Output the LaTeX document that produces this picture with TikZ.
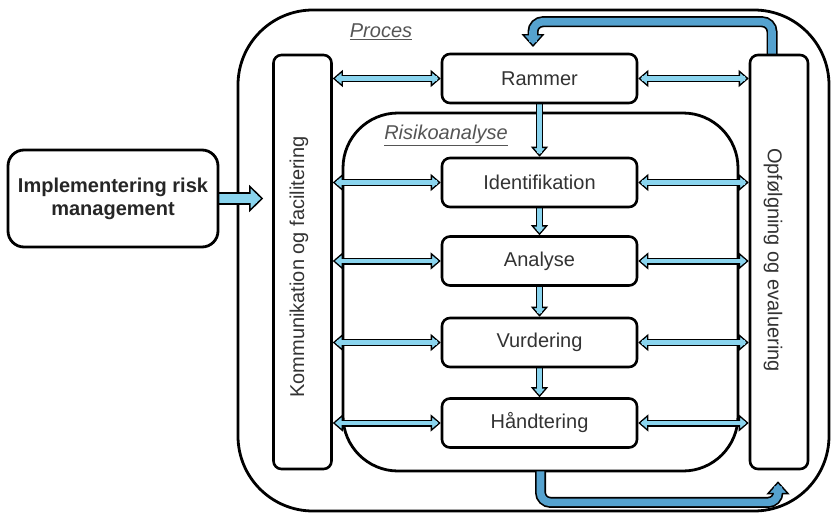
\documentclass[tikz,border=0pt]{standalone}
\usepackage{fontspec}
\setmainfont{Liberation Sans}
\usetikzlibrary{arrows.meta,calc}
\definecolor{lblue}{HTML}{8AD4EE}
\definecolor{dblue}{HTML}{55A2CF}
\definecolor{txt}{HTML}{333333}
\definecolor{lbl}{HTML}{555555}
\pgfdeclarelayer{bg}
\pgfsetlayers{bg,main}
\tikzset{
  stepbox/.style={draw=black, line width=2.6pt, rounded corners=8pt, fill=white,
    minimum width=195pt, minimum height=49pt, inner sep=0pt,
    font=\fontsize{20}{24}\selectfont, text=txt},
  sidebox/.style={draw=black, line width=2.6pt, rounded corners=8pt, fill=white,
    minimum width=58pt, minimum height=414pt, inner sep=0pt},
  sidetext/.style={font=\fontsize{20}{24}\selectfont, text=txt, inner sep=0pt},
  frame/.style={draw=black, line width=2.8pt, inner sep=0pt},
  lbltext/.style={font=\fontsize{20}{24}\selectfont\itshape, text=lbl, inner sep=0pt},
  ltip/.tip={Triangle[length=10pt,width=17pt,fill=lblue,color=black,line width=1.3pt]},
  harr/.style={line width=7pt, draw=black, ltip-ltip,
    postaction={draw=lblue, line width=4.2pt, arrows=-, shorten >=4pt, shorten <=4pt}},
  varr/.style={line width=7pt, draw=black, -ltip,
    postaction={draw=lblue, line width=4.2pt, arrows=-, shorten >=4pt}},
  bigarr/.style={line width=12.5pt, draw=black, shorten >=9pt,
    -{Triangle[length=14pt,width=27pt,fill=lblue,color=black,line width=1.5pt]},
    postaction={draw=lblue, line width=9pt, arrows=-, shorten >=15pt}},
  fbarr/.style={line width=11pt, draw=black, rounded corners=10pt,
    -{Triangle[length=13pt,width=23pt,fill=dblue,color=black,line width=1.4pt]},
    postaction={draw=dblue, line width=7.6pt, arrows=-, shorten >=5pt}}
}
\begin{document}
\begin{tikzpicture}[x=1pt,y=-1pt]
\useasboundingbox (0,0) rectangle (833,514);

% boxes
\node[stepbox] (ram) at (539.5,78.5) {Rammer};
\node[stepbox] (ide) at (539.5,182.5) {Identifikation};
\node[stepbox] (ana) at (539.5,261) {Analyse};
\node[stepbox] (vur) at (539.5,342.5) {Vurdering};
\node[stepbox] (han) at (539.5,423) {Håndtering};

\node[sidebox] (kom) at (302.5,262) {};
\node[sidetext, rotate=90] (komt) at (299,267) {Kommunikation og facilitering};
\node[sidebox] (opf) at (779,262) {};
\node[sidetext, rotate=-90] (opft) at (773,260) {Opfølgning og evaluering};

\node[draw=black, line width=2.8pt, rounded corners=16pt, fill=white,
  minimum width=210pt, minimum height=97pt, inner sep=0pt, align=center,
  font=\fontsize{20}{23}\selectfont\bfseries, text=black!85] (imp) at (113,198.5)
  {Implementering risk\\management};

\node[lbltext] (proc) at (381,32) {\underline{Proces}};
\node[lbltext] (riskl) at (446,135) {\underline{Risikoanalyse}};

\begin{pgfonlayer}{bg}
  \node[frame, rounded corners=75pt, minimum width=591pt, minimum height=501pt] (outer) at (533.5,260.5) {};
  \node[frame, rounded corners=55pt, minimum width=395pt, minimum height=358pt, fill=white] (risk) at (540.5,292) {};

  % feedback arrows
  \coordinate (fbend) at (533,47);
  \draw[fbarr] ($(opf.north)+(-7,1)$) -- ++(0,-33) -| (fbend);
  \draw[fbarr] ($(risk.south)+(0,-1)$) -- ++(0,31) -| ($(opf.south)+(-1,11)$);

  % vertical arrows
  \draw[varr] (ram.south) -- (ide.north);
  \draw[varr] (ide.south) -- (ana.north);
  \draw[varr] (ana.south) -- (vur.north);
  \draw[varr] (vur.south) -- (han.north);

  % horizontal arrows
  \foreach \b in {ram,ide,ana,vur,han}{
    \draw[harr] (kom.east |- \b.west) -- (\b.west);
    \draw[harr] (\b.east) -- (opf.west |- \b.east);
  }

  \draw[bigarr] (imp.east) -- (kom.west |- imp.east);
\end{pgfonlayer}
\end{tikzpicture}
\end{document}
